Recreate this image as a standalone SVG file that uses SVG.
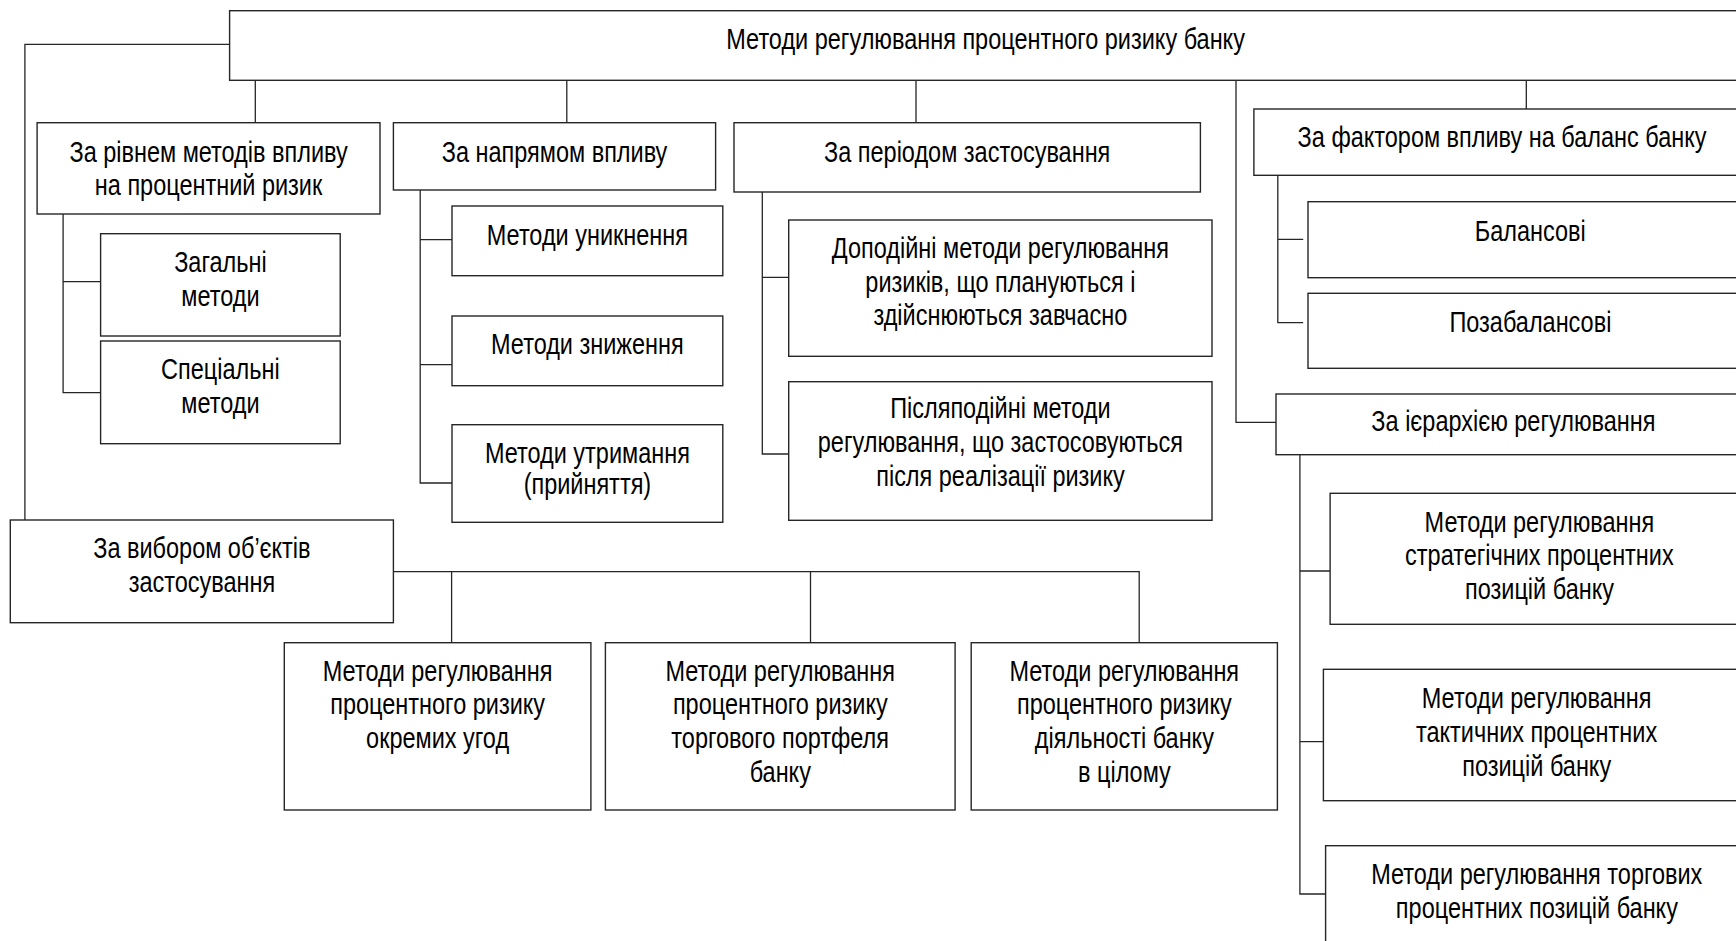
<svg xmlns="http://www.w3.org/2000/svg" width="1736" height="941" viewBox="0 0 1736 941">
<style>
.box{fill:#fff;stroke:#262626;stroke-width:1.4}
.ln{fill:none;stroke:#262626;stroke-width:1.3}
text{font-family:"Liberation Sans",Arial,sans-serif;font-size:29px;fill:#000;text-anchor:middle;transform-box:fill-box;transform-origin:50% 50%;transform:scaleX(0.81)}
</style>
<rect width="1736" height="941" fill="#fff"/>
<g id="connectors">
<path class="ln" d="M229.6 44.3H24.9V520"/>
<path class="ln" d="M255.3 80.3V122.7M566.8 80.3V122.7M916 80.3V122.7M1526.3 80.3V109"/>
<path class="ln" d="M1236 80.3V422.3H1276"/>
<path class="ln" d="M63.1 214V392.7H100.6M63.1 281.7H100.6"/>
<path class="ln" d="M420.2 190V483H452M420.2 239.7H452M420.2 364.7H452"/>
<path class="ln" d="M762.3 192V454H788.7M762.3 277.3H788.7"/>
<path class="ln" d="M1277.8 175.3V322.7H1303.2M1277.8 239.3H1303.2"/>
<path class="ln" d="M1299.9 454.7V894H1325.6M1299.9 571H1330.1M1299.9 741.7H1323.4"/>
<path class="ln" d="M393.4 571.7H1139.2V642.7M451.6 571.7V642.7M810.5 571.7V642.7"/>
</g>
<g id="root"><rect class="box" x="229.6" y="10.7" width="1520" height="69.6"/><text x="985.5" y="49">Методи регулювання процентного ризику банку</text></g>
<g id="n-riven"><rect class="box" x="37.1" y="122.7" width="342.9" height="91.3"/><text x="208.5" y="161.7">За рівнем методів впливу</text><text x="208.5" y="195">на процентний ризик</text></g>
<g id="n-zagalni"><rect class="box" x="100.6" y="233.7" width="239.6" height="102.3"/><text x="220.4" y="272.5">Загальні</text><text x="220.4" y="306">методи</text></g>
<g id="n-spetsialni"><rect class="box" x="100.6" y="341" width="239.6" height="102.7"/><text x="220.4" y="379.5">Спеціальні</text><text x="220.4" y="413">методи</text></g>
<g id="n-napriam"><rect class="box" x="393.4" y="122.7" width="322.2" height="67.3"/><text x="554.5" y="161.7">За напрямом впливу</text></g>
<g id="n-unyknennia"><rect class="box" x="452" y="206" width="270.8" height="69.7"/><text x="587.4" y="245">Методи уникнення</text></g>
<g id="n-znyzhennia"><rect class="box" x="452" y="316" width="270.8" height="69.7"/><text x="587.4" y="354.3">Методи зниження</text></g>
<g id="n-utrymannia"><rect class="box" x="452" y="424.7" width="270.8" height="97.6"/><text x="587.4" y="462.7">Методи утримання</text><text x="587.4" y="494">(прийняття)</text></g>
<g id="n-period"><rect class="box" x="734" y="122.7" width="466.4" height="69.3"/><text x="967.2" y="161.7">За періодом застосування</text></g>
<g id="n-dopodiini"><rect class="box" x="788.7" y="220" width="423.3" height="136.3"/><text x="1000.4" y="258.3">Доподійні методи регулювання</text><text x="1000.4" y="291.7">ризиків, що плануються і</text><text x="1000.4" y="325">здійснюються завчасно</text></g>
<g id="n-pisliapodiini"><rect class="box" x="788.7" y="381.7" width="423.3" height="138.6"/><text x="1000.4" y="418.3">Післяподійні методи</text><text x="1000.4" y="452.3">регулювання, що застосовуються</text><text x="1000.4" y="486.3">після реалізації ризику</text></g>
<g id="n-faktor"><rect class="box" x="1253.9" y="109" width="500" height="66.3"/><text x="1502" y="146.7">За фактором впливу на баланс банку</text></g>
<g id="n-balansovi"><rect class="box" x="1308" y="201.7" width="440" height="76"/><text x="1530.2" y="241.5">Балансові</text></g>
<g id="n-pozabalansovi"><rect class="box" x="1308" y="293.3" width="440" height="75"/><text x="1530.4" y="332">Позабалансові</text></g>
<g id="n-iierarkhiia"><rect class="box" x="1276" y="394" width="470" height="60.7"/><text x="1513.4" y="431">За ієрархією регулювання</text></g>
<g id="n-stratehichni"><rect class="box" x="1330.1" y="493.3" width="420" height="131"/><text x="1539.4" y="531.7">Методи регулювання</text><text x="1539.4" y="565">стратегічних процентних</text><text x="1539.4" y="599.3">позицій банку</text></g>
<g id="n-taktychni"><rect class="box" x="1323.4" y="669.3" width="425" height="131.4"/><text x="1536.6" y="708.3">Методи регулювання</text><text x="1536.6" y="741.7">тактичних процентних</text><text x="1536.6" y="776">позицій банку</text></g>
<g id="n-torhovi"><rect class="box" x="1325.6" y="845.7" width="425" height="110"/><text x="1536.8" y="884">Методи регулювання торгових</text><text x="1536.8" y="918">процентних позицій банку</text></g>
<g id="n-vybir"><rect class="box" x="10.3" y="520" width="383.1" height="102.7"/><text x="201.9" y="558">За вибором об’єктів</text><text x="201.9" y="592">застосування</text></g>
<g id="n-uhody"><rect class="box" x="284.3" y="642.7" width="306.6" height="167.3"/><text x="437.6" y="681">Методи регулювання</text><text x="437.6" y="714.5">процентного ризику</text><text x="437.6" y="748.5">окремих угод</text></g>
<g id="n-portfel"><rect class="box" x="605.4" y="642.7" width="349.7" height="167.3"/><text x="780.2" y="681">Методи регулювання</text><text x="780.2" y="714.5">процентного ризику</text><text x="780.2" y="748.5">торгового портфеля</text><text x="780.2" y="782">банку</text></g>
<g id="n-tsilomu"><rect class="box" x="971.2" y="642.7" width="306.2" height="167.3"/><text x="1124.3" y="681">Методи регулювання</text><text x="1124.3" y="714.5">процентного ризику</text><text x="1124.3" y="748.5">діяльності банку</text><text x="1124.3" y="782">в цілому</text></g>
</svg>
